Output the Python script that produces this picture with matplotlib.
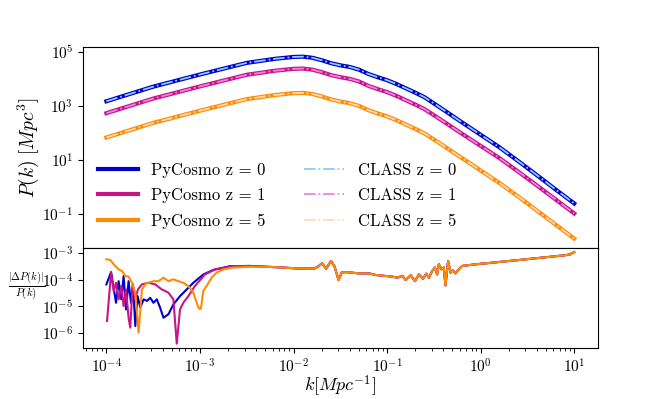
import numpy as np
import matplotlib
matplotlib.use("Agg")
import matplotlib.pyplot as plt
from matplotlib.ticker import FixedLocator, NullLocator

plt.rcParams['font.family'] = 'serif'
plt.rcParams['font.serif'] = ['cmr10']
plt.rcParams['mathtext.fontset'] = 'cm'
plt.rcParams['axes.formatter.use_mathtext'] = True
plt.rcParams['axes.unicode_minus'] = False

# log10 k grid for the power spectra
logk = [-4.0, -3.5, -3.0, -2.5, -2.2, -2.0, -1.9, -1.8, -1.7, -1.6, -1.5, -1.4, -1.3,
        -1.2, -1.1, -1.0, -0.9, -0.8, -0.7, -0.6, -0.4, -0.2, 0.0, 0.2, 0.4, 0.6, 0.8, 1.0]

# log10 P(k)
logP_z0 = [3.18, 3.72, 4.17, 4.60, 4.75, 4.82, 4.83, 4.79, 4.70, 4.59, 4.51, 4.45, 4.35,
           4.19, 4.07, 3.96, 3.82, 3.66, 3.50, 3.33, 2.87, 2.40, 1.94, 1.48, 0.97, 0.45, -0.08, -0.60]
logP_z1 = [2.74, 3.28, 3.73, 4.16, 4.31, 4.38, 4.39, 4.35, 4.26, 4.15, 4.07, 4.01, 3.91,
           3.75, 3.63, 3.52, 3.38, 3.22, 3.06, 2.89, 2.44, 1.98, 1.53, 1.08, 0.58, 0.07, -0.45, -0.97]
logP_z5 = [1.84, 2.38, 2.83, 3.26, 3.41, 3.48, 3.49, 3.45, 3.36, 3.25, 3.17, 3.11, 3.01,
           2.85, 2.73, 2.62, 2.48, 2.32, 2.16, 1.99, 1.54, 1.08, 0.62, 0.16, -0.34, -0.86, -1.38, -1.90]

# relative difference |dP|/P  (log10 k, log10 value)
# common high-k tail
tail_k = [-2.29, -2.114, -1.936, -1.83, -1.777, -1.741, -1.695, -1.652, -1.599, -1.564, -1.518,
          -1.486, -1.439, -1.298, -1.191, -1.12, -0.944, -0.89, -0.837, -0.801, -0.748, -0.702,
          -0.66, -0.617, -0.582, -0.553, -0.518, -0.489, -0.465, -0.447, -0.418, -0.394, -0.376,
          -0.348, -0.322, -0.298, -0.269, -0.234, -0.199, -0.056, 0.404, 0.901, 0.954, 1.0]
tail_r = [-3.52, -3.55, -3.59, -3.58, -3.59, -3.52, -3.39, -3.59, -3.31, -3.49, -4.02,
          -3.74, -3.72, -3.77, -3.77, -3.83, -3.89, -3.93, -3.86, -4.02, -3.84, -4.06,
          -3.81, -3.97, -3.78, -3.93, -3.68, -3.55, -3.81, -3.43, -3.62, -3.55, -4.22,
          -3.31, -3.74, -3.65, -3.77, -3.62, -3.49, -3.43, -3.27, -3.09, -3.06, -2.97]

res_k_z0 = [-4.0, -3.95, -3.897, -3.869, -3.84, -3.816, -3.79, -3.763, -3.737, -3.716, -3.691,
            -3.666, -3.638, -3.602, -3.566, -3.532, -3.497, -3.461, -3.426, -3.390, -3.337,
            -3.284, -3.213, -3.142, -3.071, -2.964, -2.858, -2.68, -2.468]
res_r_z0 = [-4.18, -3.72, -4.87, -4.06, -4.74, -3.87, -5.12, -4.06, -4.87, -4.18, -5.74,
            -4.62, -5.05, -4.74, -4.80, -4.68, -4.87, -4.74, -5.05, -5.43, -5.30,
            -4.93, -4.62, -4.37, -4.12, -3.81, -3.64, -3.50, -3.49]

res_k_z1 = [-3.993, -3.95, -3.922, -3.897, -3.869, -3.84, -3.816, -3.79, -3.763, -3.745,
            -3.720, -3.691, -3.663, -3.620, -3.550, -3.479, -3.408, -3.337, -3.284, -3.248,
            -3.213, -3.178, -3.124, -3.053, -2.947, -2.840, -2.646, -2.468]
res_r_z1 = [-5.55, -3.74, -4.43, -4.12, -4.74, -4.24, -4.99, -4.37, -5.43, -5.80,
            -4.24, -4.74, -4.37, -4.18, -4.12, -4.18, -4.37, -4.49, -4.74, -6.40,
            -5.12, -4.87, -4.62, -4.24, -3.81, -3.62, -3.50, -3.49]

res_k_z5 = [-4.0, -3.957, -3.922, -3.869, -3.833, -3.798, -3.763, -3.727, -3.691, -3.656,
            -3.620, -3.585, -3.550, -3.497, -3.444, -3.390, -3.337, -3.284, -3.231, -3.178,
            -3.124, -3.071, -3.035, -3.011, -2.989, -2.965, -2.929, -2.876, -2.822, -2.752,
            -2.646, -2.468]
res_r_z5 = [-3.24, -3.27, -3.43, -3.62, -3.68, -3.87, -3.89, -4.12, -4.49, -5.99,
            -4.37, -4.18, -4.12, -4.06, -4.06, -3.93, -4.06, -3.99, -4.06, -4.12,
            -4.24, -4.49, -4.87, -5.09, -5.09, -4.43, -4.24, -3.93, -3.74, -3.62,
            -3.55, -3.52]

res_yticks = [1e-6, 1e-5, 1e-4, 1e-3]

labels_z = ['0', '1', '5']
cols_py = ['mediumblue', 'mediumvioletred', 'darkorange']
cols_class = ['lightskyblue', 'violet', 'peachpuff']

fig = plt.figure(figsize=(6.64, 3.99), dpi=100)
gs = fig.add_gridspec(2, 1, height_ratios=[2, 1], hspace=0,
                      left=0.125, right=0.9, top=0.881, bottom=0.128)
ax1 = fig.add_subplot(gs[0])
ax2 = fig.add_subplot(gs[1], sharex=ax1)

k = 10 ** np.array(logk)
spectra = [logP_z0, logP_z1, logP_z5]
for i, lp in enumerate(spectra):
    ax1.plot(k, 10 ** np.array(lp), color=cols_py[i], lw=3,
             label='PyCosmo z = ' + labels_z[i])
for i, lp in enumerate(spectra):
    ax1.plot(k, 10 ** np.array(lp), color=cols_class[i], lw=1.3, ls='-.',
             label='CLASS z = ' + labels_z[i])

ax1.set_xscale('log')
ax1.set_yscale('log')
ax1.set_ylim(10 ** -2.24, 10 ** 5.17)
ax1.set_ylabel(r'$P(k)\ [Mpc^3]$', fontsize=14, labelpad=1)
ax1.tick_params(labelsize=11, labelbottom=False)
ax1.legend(loc='upper left', bbox_to_anchor=(0.0, 0.5), ncol=2, frameon=False,
           fontsize=12, handlelength=2.4, columnspacing=2.3, labelspacing=0.6)

res = [(res_k_z0, res_r_z0), (res_k_z1, res_r_z1), (res_k_z5, res_r_z5)]
for i, (rk, rr) in enumerate(res):
    xk = 10 ** np.array(rk + tail_k)
    yr = 10 ** np.array(rr + tail_r)
    ax2.plot(xk, yr, color=cols_py[i], lw=1.5)

ax2.set_yscale('log')
ax2.set_ylim(10 ** -6.56, 10 ** -2.81)
ax2.yaxis.set_major_locator(FixedLocator(res_yticks))
ax2.yaxis.set_minor_locator(NullLocator())
ax2.set_xlim(10 ** -4.25, 10 ** 1.25)
ax2.set_ylabel(r'$\frac{|\Delta P(k)|}{P(k)}$', fontsize=11, rotation=0,
               ha='center', va='center')
ax2.yaxis.set_label_coords(-0.11, 0.62)
ax2.set_xlabel(r'$k [Mpc^{-1}]$', fontsize=13, va='top')
ax2.xaxis.set_label_coords(0.5, -0.26)
ax2.tick_params(labelsize=11)

plt.savefig('out.png', dpi=100)
